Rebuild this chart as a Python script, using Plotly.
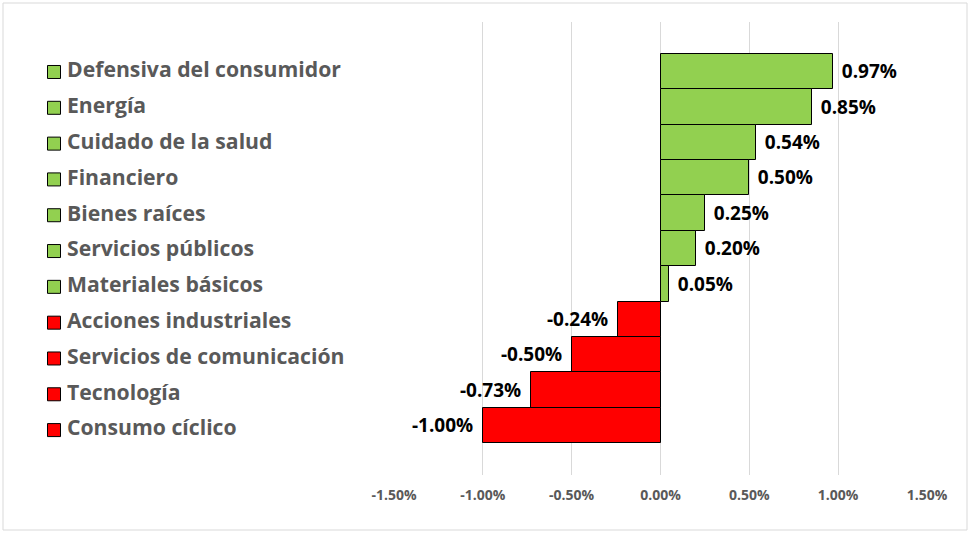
import plotly.graph_objects as go

categories = ["Defensiva del consumidor", "Energía", "Cuidado de la salud", "Financiero",
              "Bienes raíces", "Servicios públicos", "Materiales básicos",
              "Acciones industriales", "Servicios de comunicación", "Tecnología", "Consumo cíclico"]
values = [0.97, 0.85, 0.54, 0.50, 0.25, 0.20, 0.05, -0.24, -0.50, -0.73, -1.00]
tick_vals = [-1.5, -1.0, -0.5, 0.0, 0.5, 1.0, 1.5]
tick_text = [f"{v:.2f}%" for v in tick_vals]

GREEN = "#92D050"
RED = "#FF0000"
colors = [GREEN if v >= 0 else RED for v in values]
ypos = list(range(len(categories)))
SP = "\u2009\u2009"
bar_text = [(SP + f"{v:.2f}%") if v >= 0 else (f"{v:.2f}%" + SP) for v in values]

W, H = 970, 533
L_PX, R_PX = 394, 927
T_PX, B_PX = 22, 475

fig = go.Figure()
fig.add_trace(go.Bar(
    x=values, y=ypos, orientation="h", width=1,
    marker=dict(color=colors, line=dict(color="black", width=1)),
    text=bar_text, textposition="outside",
    textfont=dict(family="Open Sans", size=19, color="black", weight="bold"),
    cliponaxis=False, showlegend=False, hoverinfo="skip",
))
# legend-like column of coloured squares and labels
fig.add_trace(go.Scatter(
    x=[54] * len(categories), y=ypos, xaxis="x2", yaxis="y2",
    mode="markers",
    marker=dict(symbol="square", size=13, color=colors, line=dict(color="black", width=1)),
    cliponaxis=False, showlegend=False, hoverinfo="skip",
))
fig.add_trace(go.Scatter(
    x=[67] * len(categories), y=ypos, xaxis="x2", yaxis="y2",
    mode="text", text=categories, textposition="middle right",
    textfont=dict(family="Open Sans", size=21.2, color="#595959", weight="bold"),
    cliponaxis=False, showlegend=False, hoverinfo="skip",
))

fig.update_layout(
    width=W, height=H,
    margin=dict(l=0, r=0, t=T_PX, b=H - B_PX, pad=0, autoexpand=False),
    paper_bgcolor="white", plot_bgcolor="white",
    bargap=0,
    xaxis=dict(domain=[L_PX / W, R_PX / W], range=[-1.5, 1.5], tickvals=tick_vals,
               ticktext=tick_text, showgrid=True, gridcolor="#d9d9d9",
               gridwidth=1, zeroline=False, showline=False, ticks="", automargin=False,
               ticklabelstandoff=10,
               tickfont=dict(family="Open Sans", size=14, color="#595959", weight="bold")),
    xaxis2=dict(domain=[0, L_PX / W], range=[0, L_PX], visible=False, anchor="y2",
                automargin=False),
    yaxis=dict(range=[len(categories) - 1 + 1.4, -1.4], visible=False, automargin=False),
    yaxis2=dict(range=[len(categories) - 1 + 1.254, -1.396], visible=False, automargin=False,
                anchor="x2", overlaying="y"),
    shapes=[dict(type="rect", xref="paper", yref="paper",
                 x0=3 / W, x1=(W - 3) / W,
                 y0=-(H - 3 - B_PX) / (B_PX - T_PX), y1=1 + (T_PX - 3) / (B_PX - T_PX),
                 line=dict(color="#d9d9d9", width=1))],
)

fig.write_html("out.html", config={"displayModeBar": False},
               post_script="document.body.style.margin='0';document.body.style.overflow='hidden';")
